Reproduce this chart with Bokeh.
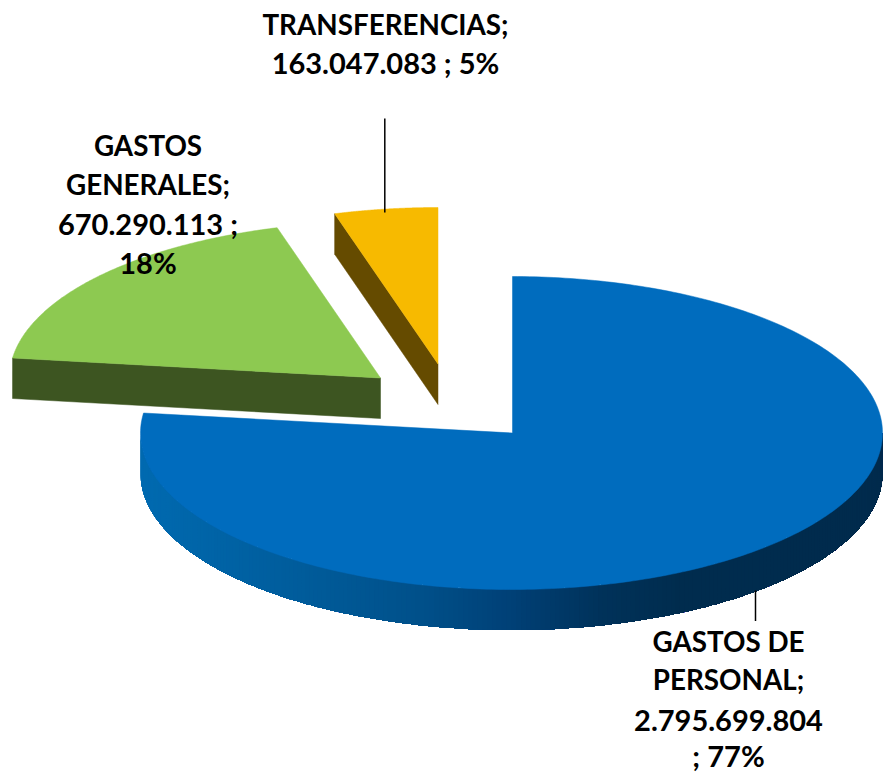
import math
from bokeh.plotting import figure
from bokeh.models import Range1d
from bokeh.core.properties import value
from bokeh.embed import file_html
from bokeh.resources import INLINE

# ---- data ----
categories = ["GASTOS DE PERSONAL", "GASTOS GENERALES", "TRANSFERENCIAS"]
values = [2795699804, 670290113, 163047083]
percent_labels = ["77%", "18%", "5%"]

# ---- styles and layout ----
top_colors = ["#006CBE", "#8DC951", "#F7BA00"]
side_colors = ["#006AAE", "#3D5521", "#654B00"]
explode = [(0, 0), (-131, -55), (-73.5, -69)]
CX, CY, RX, RY, DEPTH = 511, 432.5, 371, 156.5, 40.5
BIG_APEX_SHIFT = 1
rim_stops = [(141, (0, 106, 176)), (300, (0, 92, 155)), (420, (0, 80, 138)),
             (512, (0, 64, 118)), (600, (0, 50, 90)), (680, (0, 44, 78)), (881, (0, 43, 77))]


def point(theta, off, dz=0):
    return (CX + off[0] + RX * math.sin(theta),
            CY + off[1] - RY * math.cos(theta) + dz)


def arc(a0, a1, off, dz=0, n=160):
    return [point(a0 + (a1 - a0) * i / n, off, dz) for i in range(n + 1)]


def rim_color(x):
    for (x0, c0), (x1, c1) in zip(rim_stops, rim_stops[1:]):
        if x <= x1:
            t = max(0, (x - x0) / (x1 - x0))
            return "#%02x%02x%02x" % tuple(round(a + (b - a) * t) for a, b in zip(c0, c1))
    return "#%02x%02x%02x" % rim_stops[-1][1]


total = sum(values)
angles = []
start = 0.0
for v in values:
    end = start + 2 * math.pi * v / total
    angles.append((start, end))
    start = end

p = figure(width=887, height=773, output_backend="svg", toolbar_location=None,
           x_range=Range1d(0, 887), y_range=Range1d(773, 0), min_border=0)
p.axis.visible = False
p.grid.visible = False
p.outline_line_color = None

for i in (2, 1):
    a0, a1 = angles[i]
    off = explode[i]
    apex = (CX + off[0], CY + off[1])
    wall_pt = point(a0, off)
    wall = [wall_pt, apex, (apex[0], apex[1] + DEPTH), (wall_pt[0], wall_pt[1] + DEPTH)]
    p.patch([q[0] for q in wall], [q[1] for q in wall],
            fill_color=side_colors[i], line_color=side_colors[i], line_width=0.5)
    top = [apex] + arc(a0, a1, off)
    p.patch([q[0] for q in top], [q[1] for q in top],
            fill_color=top_colors[i], line_color=top_colors[i], line_width=0.5)

a0, a1 = angles[0]
n = 240
rim_start, rim_end = math.pi / 2, 3 * math.pi / 2
xs, ys, cs = [], [], []
for k in range(n - 1, -1, -1):
    t_hi = rim_start + (rim_end - rim_start) * (k + 1) / n
    t_lo = rim_start
    mid = rim_start + (rim_end - rim_start) * (k + 0.5) / n
    outline = arc(t_lo, t_hi, (0, 0), n=k + 1)
    lower = arc(t_hi, t_lo, (0, 0), DEPTH, n=k + 1)
    xs.append([q[0] for q in outline + lower])
    ys.append([q[1] for q in outline + lower])
    cs.append(rim_color(point(mid, (0, 0))[0]))
p.patches(xs, ys, fill_color=cs, line_color=None)

top = [(CX + BIG_APEX_SHIFT, CY)] + arc(a0, a1, (0, 0), n=300)
top[1] = (top[1][0] + BIG_APEX_SHIFT, top[1][1])
p.patch([q[0] for q in top], [q[1] for q in top],
        fill_color=top_colors[0], line_color=top_colors[0], line_width=0.5)

p.segment([384.3, 755], [118, 590], [384.3, 755], [212, 620.5], line_color="black", line_width=1.5)


def money(v):
    return f"{v:,}".replace(",", ".")


# (text, size in px) per line
label_lines = [
    [("GASTOS DE", 27.8), ("PERSONAL;", 27.8), (money(values[0]), 29), ("; " + percent_labels[0], 29)],
    [("GASTOS", 27.8), ("GENERALES;", 27.8), (money(values[1]) + " ;", 29), (percent_labels[1], 29)],
    [("TRANSFERENCIAS;", 27.8), (money(values[2]) + " ; " + percent_labels[2], 29)],
]
label_x = [728, 147.5, 385]
label_y = [[641, 679, 720, 755], [145, 184, 223, 262], [24, 62]]
for lines, lx, lys in zip(label_lines, label_x, label_y):
    for (txt, size), ly in zip(lines, lys):
        p.text([lx], [ly], text=[txt], text_align="center", text_baseline="middle",
               text_font=value("Lato"), text_font_style="bold", text_font_size=f"{size}px",
               text_color="black")

open("out.html", "w").write(file_html(p, INLINE))
